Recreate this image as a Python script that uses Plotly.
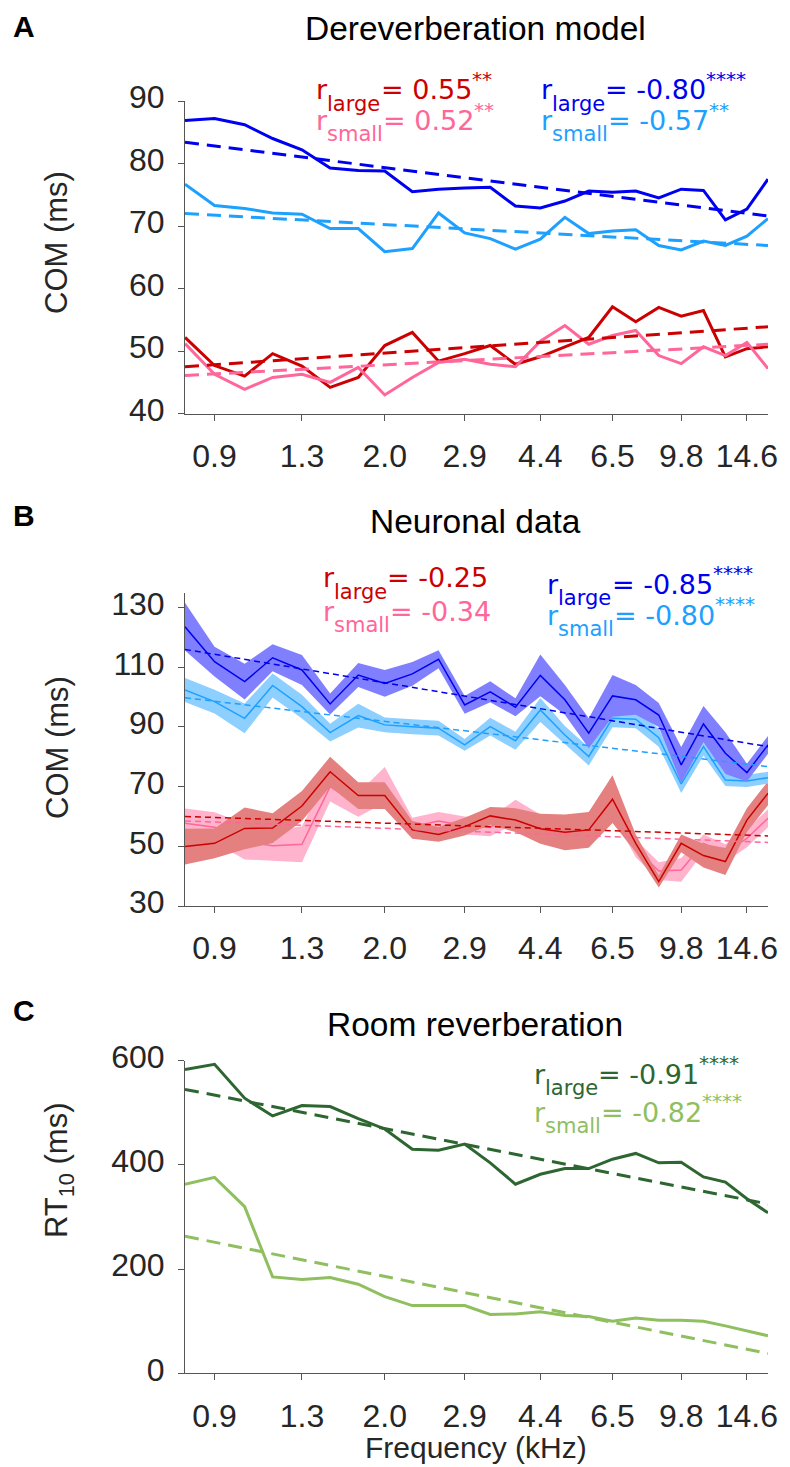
import numpy as np
import plotly.graph_objects as go

W, H = 790, 1467
OFF = 8  # page offset of the plot inside the browser window

# ---------------- data ----------------
freq_khz = [0.79, 0.90, 1.03, 1.17, 1.34, 1.53, 1.75, 1.99, 2.28, 2.60, 2.97, 3.39,
            3.87, 4.42, 5.05, 5.76, 6.58, 7.51, 8.58, 9.79, 11.18, 12.77, 14.58, 16.64]
tick_labels = ["0.9", "1.3", "2.0", "2.9", "4.4", "6.5", "9.8", "14.6"]

# Panel A: dereverberation model COM (ms)
derev_large = [86.9, 87.2, 86.2, 84.0, 82.2, 79.3, 78.9, 78.8, 75.5, 75.9, 76.1, 76.2,
               73.2, 72.9, 74.0, 75.6, 75.4, 75.6, 74.5, 75.9, 75.7, 71.0, 72.7, 77.5]
derev_small = [76.7, 73.3, 72.8, 72.1, 71.9, 69.6, 69.6, 65.9, 66.4, 72.1, 68.9, 68.0,
               66.3, 67.9, 71.4, 68.8, 69.2, 69.4, 66.9, 66.2, 67.6, 66.9, 68.4, 71.2]
derev_large_low = [52.2, 47.7, 46.0, 49.6, 47.6, 44.2, 45.8, 50.9, 53.0, 48.4, 49.6, 50.9,
                   47.9, 49.1, 50.7, 52.2, 57.1, 54.7, 57.0, 55.6, 56.5, 49.1, 50.4, 50.7]
derev_small_low = [51.2, 46.3, 43.9, 45.8, 46.3, 45.0, 47.4, 43.0, 45.8, 48.2, 48.7, 47.9,
                   47.5, 51.6, 54.1, 51.1, 52.5, 53.3, 49.3, 48.0, 50.7, 49.3, 51.4, 47.2]
# regression line values at lowest / highest frequency
fitA_large_low = [47.5, 53.9]
fitA_small_low = [46.1, 51.1]
fitA_large = [83.4, 71.6]
fitA_small = [72.0, 66.9]

# Panel B: neuronal data COM (ms), mean and s.e.m.
neur_large_hi = [123.6, 111.9, 105.2, 113.2, 109.1, 97.7, 107.4, 104.6, 107.8, 112.7, 97.4, 101.8,
                 96.6, 107.3, 99.1, 87.9, 100.4, 99.1, 94.0, 77.3, 91.0, 81.2, 74.7, 84.0]
neur_large_hi_sem = [8, 5, 6, 4.5, 5, 3.5, 4, 4.5, 4, 3, 3, 3.5, 3, 7, 5, 5, 7, 5, 4, 6, 6, 7, 3, 3]
neur_small_hi = [102.4, 98.5, 92.9, 103.9, 96.8, 88.1, 93.8, 90.7, 90.1, 89.6, 84.0, 90.1,
                 85.4, 95.7, 87.3, 80.1, 92.9, 92.6, 86.4, 70.9, 83.4, 72.2, 71.9, 73.0]
neur_small_hi_sem = [4, 4, 5, 4, 4, 3, 4, 2.5, 2.5, 2.5, 2, 3, 3, 4, 3, 3, 3, 3, 3, 3, 3, 2, 2, 2]
neur_large_lo = [49.9, 51.0, 56.0, 56.1, 63.5, 75.0, 67.0, 67.0, 55.5, 54.0, 56.6, 60.2,
                 58.8, 55.9, 54.7, 55.5, 65.8, 51.0, 38.2, 51.0, 46.9, 44.9, 58.8, 67.8]
neur_large_lo_sem = [6, 5, 7, 5, 5, 5, 4.5, 4.5, 3, 2.5, 3, 3, 4, 5, 6, 6, 8, 3, 2, 3, 4, 4.5, 4, 4]
neur_small_lo = [57.7, 56.4, 51.6, 50.2, 50.7, 70.0, 63.9, 70.6, 56.6, 58.5, 57.0, 56.4,
                 61.6, 57.7, 57.0, 55.5, 64.4, 49.3, 41.7, 42.1, 51.0, 47.7, 52.7, 59.4]
neur_small_lo_sem = [5, 5, 6, 5, 6, 5, 4, 6, 3, 3, 3, 3, 4, 3, 3, 3, 4, 3, 3, 4, 3, 3, 3, 3]
fitB_large_hi = [116.0, 83.4]
fitB_small_hi = [99.8, 76.7]
fitB_large_lo = [60.0, 53.5]
fitB_small_lo = [58.5, 51.3]

# Panel C: room reverberation RT10 (ms)
rt_large = [583, 593, 528, 494, 514, 512, 489, 469, 430, 428, 440, 404,
            363, 382, 393, 393, 411, 422, 404, 405, 377, 367, 335, 308]
rt_small = [363, 376, 320, 185, 180, 184, 171, 147, 130, 130, 130, 113,
            114, 118, 111, 109, 100, 106, 102, 102, 100, 91, 81, 72]
fitC_large = [545, 325]
fitC_small = [263, 38]

# ---------------- styling ----------------
RED, PINK = "#cc0000", "#ff6699"
BLUE, LBLUE = "#0000f0", "#1ea0ff"
DGREEN, LGREEN = "#2d6630", "#8fbf5f"
F_BLUE, F_LBLUE, F_RED, F_PINK = "#8080ff", "#8dcfff", "#e58080", "#ffb3cc"
AXC = "#555555"
TXT = "#262626"
SANS = "Liberation Sans, Arial"
TICKFONT = dict(family=SANS, size=32, color=TXT)

f = np.array(freq_khz)
xpos = -f ** (-0.12)  # compressive frequency scale of the original axis
tickvals = list(xpos[1::3])
ends = [xpos[0], xpos[-1]]


def ppx(x):
    return (x - OFF) / W


def ppy(y):
    return 1 - (y - OFF) / H


fig = go.Figure()


def line(ax, y, color, width, dash=None):
    fig.add_trace(go.Scatter(x=xpos, y=y, mode="lines", xaxis="x" + ax, yaxis="y" + ax,
                             line=dict(color=color, width=width, dash=dash),
                             showlegend=False, hoverinfo="skip"))


def fit(ax, vals, color, width, dash):
    fig.add_trace(go.Scatter(x=ends, y=vals, mode="lines", xaxis="x" + ax, yaxis="y" + ax,
                             line=dict(color=color, width=width, dash=dash),
                             showlegend=False, hoverinfo="skip"))


def band(ax, m, s, fill):
    m = np.array(m)
    s = np.array(s)
    xs = np.concatenate([xpos, xpos[::-1]])
    ys = np.concatenate([m + s, (m - s)[::-1]])
    fig.add_trace(go.Scatter(x=xs, y=ys, mode="lines", fill="toself", fillcolor=fill,
                             line=dict(width=0, color=fill), xaxis="x" + ax, yaxis="y" + ax,
                             showlegend=False, hoverinfo="skip"))


DA = "14px,8px"
DB = "6px,4px"

# Panel A (axis suffix "")
for y, c in [(derev_large, BLUE), (derev_small, LBLUE), (derev_large_low, RED), (derev_small_low, PINK)]:
    line("", y, c, 3)
for v, c in [(fitA_large, BLUE), (fitA_small, LBLUE), (fitA_large_low, RED), (fitA_small_low, PINK)]:
    fit("", v, c, 3, DA)

# Panel B
band("2", neur_small_lo, neur_small_lo_sem, F_PINK)
line("2", neur_small_lo, PINK, 1.5)
band("2", neur_large_lo, neur_large_lo_sem, F_RED)
line("2", neur_large_lo, RED, 1.5)
band("2", neur_small_hi, neur_small_hi_sem, F_LBLUE)
line("2", neur_small_hi, LBLUE, 1.5)
band("2", neur_large_hi, neur_large_hi_sem, F_BLUE)
line("2", neur_large_hi, BLUE, 1.5)
for v, c in [(fitB_large_hi, BLUE), (fitB_small_hi, LBLUE), (fitB_large_lo, RED), (fitB_small_lo, PINK)]:
    fit("2", v, c, 1.5, DB)

# Panel C
line("3", rt_large, DGREEN, 3)
line("3", rt_small, LGREEN, 3)
fit("3", fitC_large, DGREEN, 3, DA)
fit("3", fitC_small, LGREEN, 3, DA)

xdom = [ppx(185), ppx(768)]
panels = {
    "": dict(top=101, bot=413.7, rng=[40, 90], dt=10, t0=40),
    "2": dict(top=592.7, bot=906, rng=[30, 135], dt=20, t0=30),
    "3": dict(top=1060.7, bot=1373.3, rng=[0, 600], dt=200, t0=0),
}
layout = dict(width=W, height=H, margin=dict(l=0, r=0, t=0, b=0, pad=0, autoexpand=False),
              plot_bgcolor="white", paper_bgcolor="white", showlegend=False)
for k, p in panels.items():
    layout["xaxis" + k] = dict(domain=xdom, range=ends, anchor="y" + k, showgrid=False,
                               zeroline=False, showline=True, linecolor=AXC, linewidth=1,
                               ticks="outside", ticklen=6, tickcolor=AXC, tickvals=tickvals,
                               ticktext=tick_labels, tickfont=TICKFONT, automargin=False,
                               ticklabelstandoff=8)
    layout["yaxis" + k] = dict(domain=[ppy(p["bot"]), ppy(p["top"])], range=p["rng"],
                               anchor="x" + k, showgrid=False, zeroline=False, showline=True,
                               linecolor=AXC, linewidth=1, ticks="outside", ticklen=6,
                               tickcolor=AXC, tick0=p["t0"], dtick=p["dt"], tickfont=TICKFONT,
                               automargin=False, ticklabelshift=-4, ticklabelstandoff=7)
fig.update_layout(**layout)

ann = []


def txt(x, y, s, size, color=TXT, family=SANS, xanchor="center", angle=0, bold=False):
    if bold:
        s = "<b>" + s + "</b>"
    ann.append(dict(x=ppx(x), y=ppy(y), xref="paper", yref="paper", text=s, showarrow=False,
                    xanchor=xanchor, yanchor="middle", textangle=angle, borderpad=0,
                    font=dict(family=family, size=size, color=color)))


# panel letters and titles
txt(24, 26, "A", 30, "black", bold=True)
txt(24, 515, "B", 30, "black", bold=True)
txt(24, 1010, "C", 30, "black", bold=True)
txt(475, 29, "Dereverberation model", 33.5, "black")
txt(475, 521, "Neuronal data", 33.5, "black")
txt(475, 1024, "Room reverberation", 33.5, "black")
txt(57, 243, "COM (ms)", 31, TXT, angle=-90)
txt(57, 748, "COM (ms)", 31, TXT, angle=-90)
txt(59, 1171, "RT<sub>10</sub> (ms)", 31, TXT, angle=-90)
txt(476, 1447, "Frequency (kHz)", 30, TXT)

# correlation labels: r with subscript, value, significance stars (DejaVu Sans)
DJ = "DejaVu Sans"
DJW = {"r": 0.411, "l": 0.278, "a": 0.613, "g": 0.635, "e": 0.615, "s": 0.521, "m": 0.974,
       "=": 0.838, " ": 0.318, "-": 0.361, ".": 0.318, "0": 0.636, "1": 0.636, "2": 0.636,
       "3": 0.636, "4": 0.636, "5": 0.636, "6": 0.636, "7": 0.636, "8": 0.636, "9": 0.636}
S_MAIN, S_SUB, S_SUP = 27, 21, 20


def width(s, size):
    return sum(DJW[c] for c in s) * size


def rlab(x0, yc, sub, val, stars, color):
    # x0: left of text, yc: vertical centre of the digits (pixels)
    txt(x0, yc, "r", S_MAIN, color, DJ, "left")
    xs = x0 + width("r", S_MAIN)
    txt(xs, yc + 14, sub, S_SUB, color, DJ, "left")
    xv = xs + width(sub, S_SUB)
    vt = "= " + val
    txt(xv, yc, vt, S_MAIN, color, DJ, "left")
    if stars:
        txt(xv + width(vt, S_MAIN), yc - 11, stars, S_SUP, color, DJ, "left")


rlab(315, 89.7, "large", "0.55", "**", RED)
rlab(315, 120.5, "small", "0.52", "**", PINK)
rlab(539.5, 89.7, "large", "-0.80", "****", BLUE)
rlab(539.5, 120.5, "small", "-0.57", "**", LBLUE)
rlab(321.6, 577.8, "large", "-0.25", "", RED)
rlab(321.6, 611.2, "small", "-0.34", "", PINK)
rlab(546, 584.2, "large", "-0.85", "****", BLUE)
rlab(546, 615.3, "small", "-0.80", "****", LBLUE)
rlab(532.6, 1074, "large", "-0.91", "****", DGREEN)
rlab(532.6, 1112, "small", "-0.82", "****", LGREEN)

fig.update_layout(annotations=ann)
fig.write_html("out.html")
